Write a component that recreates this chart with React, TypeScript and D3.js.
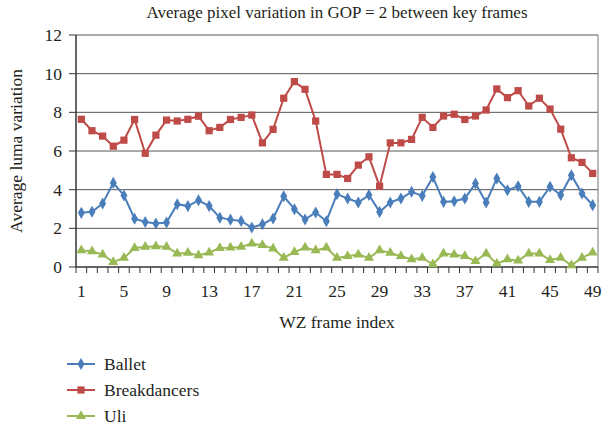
import React from "react";
import * as d3 from "d3";

const frames = d3.range(1, 50);
const tickLabels = [1, 5, 9, 13, 17, 21, 25, 29, 33, 37, 41, 45, 49];
const yTicks = [0, 2, 4, 6, 8, 10, 12];

const ballet = [
  2.8, 2.86, 3.28, 4.35, 3.7, 2.5, 2.33, 2.25, 2.3, 3.25,
  3.15, 3.45, 3.15, 2.55, 2.45, 2.38, 2.04, 2.21, 2.51, 3.66,
  2.99, 2.46, 2.82, 2.37, 3.77, 3.54, 3.34, 3.72, 2.85, 3.34,
  3.54, 3.89, 3.68, 4.66, 3.37, 3.4, 3.54, 4.32, 3.34, 4.58,
  3.97, 4.18, 3.37, 3.37, 4.15, 3.72, 4.75, 3.8, 3.2
];
const breakdancers = [
  7.64, 7.05, 6.77, 6.25, 6.56, 7.63, 5.88, 6.82, 7.6, 7.55,
  7.64, 7.8, 7.05, 7.22, 7.63, 7.74, 7.86, 6.42, 7.12, 8.73,
  9.59, 9.19, 7.55, 4.79, 4.79, 4.58, 5.27, 5.7, 4.18, 6.42,
  6.42, 6.6, 7.74, 7.22, 7.81, 7.9, 7.63, 7.81, 8.12, 9.21,
  8.76, 9.12, 8.33, 8.73, 8.17, 7.13, 5.65, 5.41, 4.84
];
const uli = [
  0.86, 0.81, 0.64, 0.26, 0.47, 0.98, 1.04, 1.07, 1.04, 0.7,
  0.73, 0.6, 0.75, 0.98, 1.0, 1.04, 1.21, 1.13, 0.95, 0.48,
  0.77, 1.0, 0.86, 1.0, 0.47, 0.56, 0.64, 0.47, 0.86, 0.73,
  0.56, 0.4, 0.47, 0.14, 0.7, 0.64, 0.56, 0.3, 0.7, 0.17,
  0.4, 0.33, 0.7, 0.7, 0.36, 0.48, 0.09, 0.47, 0.75
];

const seriesNames = ["Ballet", "Breakdancers", "Uli"];
const seriesValues = [ballet, breakdancers, uli];
const colors = ["#4a7ebb", "#be4b48", "#98b954"];
const symbols = [d3.symbolDiamond, d3.symbolSquare, d3.symbolTriangle];
const symbolSizes = [42, 52, 44];

const font = "'Liberation Serif', 'Times New Roman', serif";

export default function App() {
  const W = 606, H = 428;
  const left = 76, right = 598, top = 35, bottom = 267;

  const x = d3.scaleBand<number>().domain(frames).range([left, right]);
  const y = d3.scaleLinear().domain([0, 12]).range([bottom, top]);
  const cx = (f: number) => (x(f) as number) + x.bandwidth() / 2;

  const line = d3
    .line<number>()
    .x((_, i) => cx(frames[i]))
    .y((v) => y(v));

  const boundaries = frames.map((f) => x(f) as number).concat([right]);

  return (
    <svg
      width={W}
      height={H}
      style={{ position: "absolute", left: 0, top: 0 }}
      fontFamily={font}
    >
      <rect width={W} height={H} fill="#fff" />
      <text x={(left + right) / 2} y={18} textAnchor="middle" fontSize={17} fill="#231f20">
        Average pixel variation in GOP = 2 between key frames
      </text>

      {/* grid */}
      {yTicks.filter((t) => t > 0).map((t) => (
        <line key={t} x1={left} x2={right} y1={y(t)} y2={y(t)} stroke="#555" strokeWidth={1} />
      ))}
      <line x1={right} x2={right} y1={top} y2={bottom} stroke="#777" strokeWidth={1} />

      {/* y axis */}
      <line x1={left} x2={left} y1={top} y2={bottom} stroke="#333" strokeWidth={1.5} />
      {yTicks.map((t) => (
        <g key={t}>
          <line x1={left - 7} x2={left} y1={y(t)} y2={y(t)} stroke="#333" />
          <text x={62} y={y(t)} dy="0.35em" textAnchor="end" fontSize={17.5} fill="#231f20">
            {t}
          </text>
        </g>
      ))}
      <text
        transform={`translate(22, ${(top + bottom) / 2}) rotate(-90)`}
        textAnchor="middle"
        fontSize={17.5}
        fill="#231f20"
      >
        Average luma variation
      </text>

      {/* x axis */}
      <line x1={left} x2={right} y1={bottom} y2={bottom} stroke="#333" strokeWidth={1.5} />
      {boundaries.map((b, i) => (
        <line key={i} x1={b} x2={b} y1={bottom} y2={bottom + 6} stroke="#333" />
      ))}
      {tickLabels.map((t) => (
        <text key={t} x={cx(t)} y={297} textAnchor="middle" fontSize={17.5} fill="#231f20">
          {t}
        </text>
      ))}
      <text x={(left + right) / 2} y={328} textAnchor="middle" fontSize={17.5} fill="#231f20">
        WZ frame index
      </text>

      {/* series */}
      {seriesValues.map((vals, s) => (
        <g key={seriesNames[s]}>
          <path d={line(vals) ?? ""} fill="none" stroke={colors[s]} strokeWidth={2} />
          {vals.map((v, i) => (
            <path
              key={i}
              transform={`translate(${cx(frames[i])}, ${y(v)})`}
              d={d3.symbol().type(symbols[s]).size(symbolSizes[s])() ?? ""}
              fill={colors[s]}
            />
          ))}
        </g>
      ))}

      {/* legend */}
      {seriesNames.map((name, s) => {
        const ly = 364 + s * 26;
        return (
          <g key={name}>
            <line x1={67} x2={95} y1={ly} y2={ly} stroke={colors[s]} strokeWidth={2} />
            <path
              transform={`translate(81, ${ly})`}
              d={d3.symbol().type(symbols[s]).size(symbolSizes[s])() ?? ""}
              fill={colors[s]}
            />
            <text x={104} y={ly} dy="0.35em" fontSize={17.5} fill="#231f20">
              {name}
            </text>
          </g>
        );
      })}
    </svg>
  );
}
